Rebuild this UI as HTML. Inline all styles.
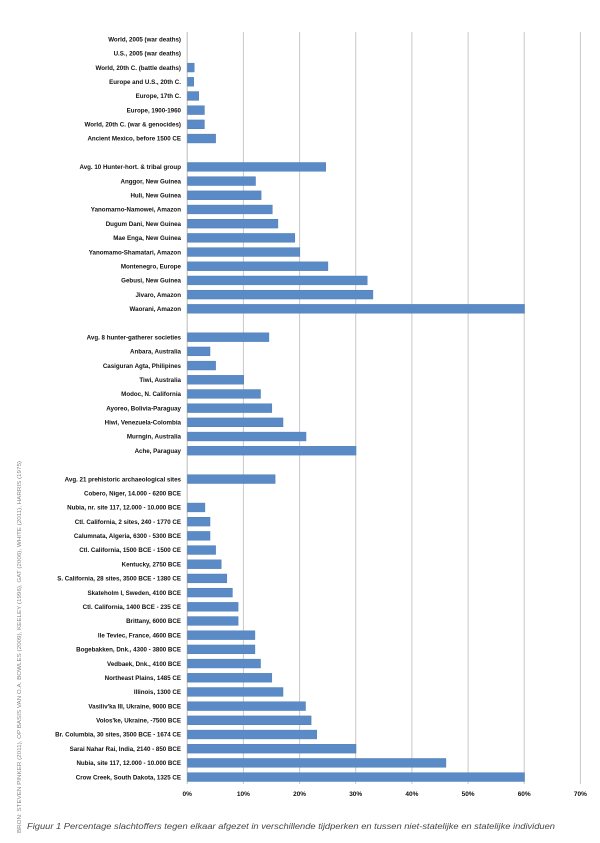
<!DOCTYPE html>
<html><head><meta charset="utf-8"><style>
html,body{margin:0;padding:0;background:#fff;}
svg{display:block;}
text{font-family:"Liberation Sans",sans-serif;}
.l{font-size:6.2px;font-weight:bold;fill:#111;text-anchor:end;}
.b{fill:#5a8bc6;stroke:#4f7db5;stroke-width:0.5;}
</style></head><body>
<svg width="600" height="843" xmlns="http://www.w3.org/2000/svg">
<g stroke="#c8c8c8" stroke-width="1">
<line x1="243.4" y1="32" x2="243.4" y2="784"/>
<line x1="299.6" y1="32" x2="299.6" y2="784"/>
<line x1="355.7" y1="32" x2="355.7" y2="784"/>
<line x1="411.9" y1="32" x2="411.9" y2="784"/>
<line x1="468.1" y1="32" x2="468.1" y2="784"/>
<line x1="524.2" y1="32" x2="524.2" y2="784"/>
<line x1="580.4" y1="32" x2="580.4" y2="784"/>
</g>
<line x1="187.2" y1="32" x2="187.2" y2="784" stroke="#bbb" stroke-width="1"/>

<g transform="translate(0,39.2)"><text class="l" x="181" y="2.2">World, 2005 (war deaths)</text></g>
<g transform="translate(0,53.39)"><text class="l" x="181" y="2.2">U.S., 2005 (war deaths)</text></g>
<g transform="translate(0,67.58)"><text class="l" x="181" y="2.2">World, 20th C. (battle deaths)</text><rect class="b" x="187.5" y="-4.4" width="6.7" height="8.8"/></g>
<g transform="translate(0,81.77)"><text class="l" x="181" y="2.2">Europe and U.S., 20th C.</text><rect class="b" x="187.5" y="-4.4" width="6.2" height="8.8"/></g>
<g transform="translate(0,95.96)"><text class="l" x="181" y="2.2">Europe, 17th C.</text><rect class="b" x="187.5" y="-4.4" width="11.2" height="8.8"/></g>
<g transform="translate(0,110.15)"><text class="l" x="181" y="2.2">Europe, 1900-1960</text><rect class="b" x="187.5" y="-4.4" width="16.9" height="8.8"/></g>
<g transform="translate(0,124.34)"><text class="l" x="181" y="2.2">World, 20th C. (war &amp; genocides)</text><rect class="b" x="187.5" y="-4.4" width="16.9" height="8.8"/></g>
<g transform="translate(0,138.53)"><text class="l" x="181" y="2.2">Ancient Mexico, before 1500 CE</text><rect class="b" x="187.5" y="-4.4" width="28.1" height="8.8"/></g>

<g transform="translate(0,166.91)"><text class="l" x="181" y="2.2">Avg. 10 Hunter-hort. &amp; tribal group</text><rect class="b" x="187.5" y="-4.4" width="138.2" height="8.8"/></g>
<g transform="translate(0,181.1)"><text class="l" x="181" y="2.2">Anggor, New Guinea</text><rect class="b" x="187.5" y="-4.4" width="68" height="8.8"/></g>
<g transform="translate(0,195.29)"><text class="l" x="181" y="2.2">Huli, New Guinea</text><rect class="b" x="187.5" y="-4.4" width="73.6" height="8.8"/></g>
<g transform="translate(0,209.48)"><text class="l" x="181" y="2.2">Yanomarno-Namowei, Amazon</text><rect class="b" x="187.5" y="-4.4" width="84.8" height="8.8"/></g>
<g transform="translate(0,223.67)"><text class="l" x="181" y="2.2">Dugum Dani, New Guinea</text><rect class="b" x="187.5" y="-4.4" width="90.4" height="8.8"/></g>
<g transform="translate(0,237.86)"><text class="l" x="181" y="2.2">Mae Enga, New Guinea</text><rect class="b" x="187.5" y="-4.4" width="107.3" height="8.8"/></g>
<g transform="translate(0,252.05)"><text class="l" x="181" y="2.2">Yanomamo-Shamatari, Amazon</text><rect class="b" x="187.5" y="-4.4" width="112.3" height="8.8"/></g>
<g transform="translate(0,266.24)"><text class="l" x="181" y="2.2">Montenegro, Europe</text><rect class="b" x="187.5" y="-4.4" width="140.4" height="8.8"/></g>
<g transform="translate(0,280.43)"><text class="l" x="181" y="2.2">Gebusi, New Guinea</text><rect class="b" x="187.5" y="-4.4" width="179.7" height="8.8"/></g>
<g transform="translate(0,294.62)"><text class="l" x="181" y="2.2">Jivaro, Amazon</text><rect class="b" x="187.5" y="-4.4" width="185.4" height="8.8"/></g>
<g transform="translate(0,308.81)"><text class="l" x="181" y="2.2">Waorani, Amazon</text><rect class="b" x="187.5" y="-4.4" width="337" height="8.8"/></g>

<g transform="translate(0,337.19)"><text class="l" x="181" y="2.2">Avg. 8 hunter-gatherer societies</text><rect class="b" x="187.5" y="-4.4" width="81.4" height="8.8"/></g>
<g transform="translate(0,351.38)"><text class="l" x="181" y="2.2">Anbara, Australia</text><rect class="b" x="187.5" y="-4.4" width="22.5" height="8.8"/></g>
<g transform="translate(0,365.57)"><text class="l" x="181" y="2.2">Casiguran Agta, Philipines</text><rect class="b" x="187.5" y="-4.4" width="28.1" height="8.8"/></g>
<g transform="translate(0,379.76)"><text class="l" x="181" y="2.2">Tiwi, Australia</text><rect class="b" x="187.5" y="-4.4" width="56.2" height="8.8"/></g>
<g transform="translate(0,393.95)"><text class="l" x="181" y="2.2">Modoc, N. California</text><rect class="b" x="187.5" y="-4.4" width="73" height="8.8"/></g>
<g transform="translate(0,408.14)"><text class="l" x="181" y="2.2">Ayoreo, Bolivia-Paraguay</text><rect class="b" x="187.5" y="-4.4" width="84.3" height="8.8"/></g>
<g transform="translate(0,422.33)"><text class="l" x="181" y="2.2">Hiwi, Venezuela-Colombia</text><rect class="b" x="187.5" y="-4.4" width="95.5" height="8.8"/></g>
<g transform="translate(0,436.52)"><text class="l" x="181" y="2.2">Murngin, Australia</text><rect class="b" x="187.5" y="-4.4" width="118.5" height="8.8"/></g>
<g transform="translate(0,450.71)"><text class="l" x="181" y="2.2">Ache, Paraguay</text><rect class="b" x="187.5" y="-4.4" width="168.5" height="8.8"/></g>

<g transform="translate(0,479.09)"><text class="l" x="181" y="2.2">Avg. 21 prehistoric archaeological sites</text><rect class="b" x="187.5" y="-4.4" width="87.6" height="8.8"/></g>
<g transform="translate(0,493.28)"><text class="l" x="181" y="2.2">Cobero, Niger, 14.000 - 6200 BCE</text></g>
<g transform="translate(0,507.47)"><text class="l" x="181" y="2.2">Nubia, nr. site 117, 12.000 - 10.000 BCE</text><rect class="b" x="187.5" y="-4.4" width="17.4" height="8.8"/></g>
<g transform="translate(0,521.66)"><text class="l" x="181" y="2.2">Ctl. California, 2 sites, 240 - 1770 CE</text><rect class="b" x="187.5" y="-4.4" width="22.5" height="8.8"/></g>
<g transform="translate(0,535.85)"><text class="l" x="181" y="2.2">Calumnata, Algeria, 6300 - 5300 BCE</text><rect class="b" x="187.5" y="-4.4" width="22.5" height="8.8"/></g>
<g transform="translate(0,550.04)"><text class="l" x="181" y="2.2">Ctl. California, 1500 BCE - 1500 CE</text><rect class="b" x="187.5" y="-4.4" width="28.1" height="8.8"/></g>
<g transform="translate(0,564.23)"><text class="l" x="181" y="2.2">Kentucky, 2750 BCE</text><rect class="b" x="187.5" y="-4.4" width="33.7" height="8.8"/></g>
<g transform="translate(0,578.42)"><text class="l" x="181" y="2.2">S. California, 28 sites, 3500 BCE - 1380 CE</text><rect class="b" x="187.5" y="-4.4" width="39.3" height="8.8"/></g>
<g transform="translate(0,592.61)"><text class="l" x="181" y="2.2">Skateholm I, Sweden, 4100 BCE</text><rect class="b" x="187.5" y="-4.4" width="44.9" height="8.8"/></g>
<g transform="translate(0,606.8)"><text class="l" x="181" y="2.2">Ctl. California, 1400 BCE - 235 CE</text><rect class="b" x="187.5" y="-4.4" width="50.6" height="8.8"/></g>
<g transform="translate(0,620.99)"><text class="l" x="181" y="2.2">Brittany, 6000 BCE</text><rect class="b" x="187.5" y="-4.4" width="50.6" height="8.8"/></g>
<g transform="translate(0,635.18)"><text class="l" x="181" y="2.2">Ile Teviec, France, 4600 BCE</text><rect class="b" x="187.5" y="-4.4" width="67.4" height="8.8"/></g>
<g transform="translate(0,649.37)"><text class="l" x="181" y="2.2">Bogebakken, Dnk., 4300 - 3800 BCE</text><rect class="b" x="187.5" y="-4.4" width="67.4" height="8.8"/></g>
<g transform="translate(0,663.56)"><text class="l" x="181" y="2.2">Vedbaek, Dnk., 4100 BCE</text><rect class="b" x="187.5" y="-4.4" width="73" height="8.8"/></g>
<g transform="translate(0,677.75)"><text class="l" x="181" y="2.2">Northeast Plains, 1485 CE</text><rect class="b" x="187.5" y="-4.4" width="84.3" height="8.8"/></g>
<g transform="translate(0,691.94)"><text class="l" x="181" y="2.2">Illinois, 1300 CE</text><rect class="b" x="187.5" y="-4.4" width="95.5" height="8.8"/></g>
<g transform="translate(0,706.13)"><text class="l" x="181" y="2.2">Vasiliv'ka III, Ukraine, 9000 BCE</text><rect class="b" x="187.5" y="-4.4" width="118" height="8.8"/></g>
<g transform="translate(0,720.32)"><text class="l" x="181" y="2.2">Volos'ke, Ukraine, -7500 BCE</text><rect class="b" x="187.5" y="-4.4" width="123.6" height="8.8"/></g>
<g transform="translate(0,734.51)"><text class="l" x="181" y="2.2">Br. Columbia, 30 sites, 3500 BCE - 1674 CE</text><rect class="b" x="187.5" y="-4.4" width="129.2" height="8.8"/></g>
<g transform="translate(0,748.7)"><text class="l" x="181" y="2.2">Sarai Nahar Rai, India, 2140 - 850 BCE</text><rect class="b" x="187.5" y="-4.4" width="168.5" height="8.8"/></g>
<g transform="translate(0,762.89)"><text class="l" x="181" y="2.2">Nubia, site 117, 12.000 - 10.000 BCE</text><rect class="b" x="187.5" y="-4.4" width="258.4" height="8.8"/></g>
<g transform="translate(0,777.08)"><text class="l" x="181" y="2.2">Crow Creek, South Dakota, 1325 CE</text><rect class="b" x="187.5" y="-4.4" width="337" height="8.8"/></g>

<g font-size="6.5" font-weight="bold" fill="#111" text-anchor="middle">
<text x="187.2" y="796">0%</text><text x="243.4" y="796">10%</text><text x="299.6" y="796">20%</text><text x="355.7" y="796">30%</text><text x="411.9" y="796">40%</text><text x="468.1" y="796">50%</text><text x="524.2" y="796">60%</text><text x="580.4" y="796">70%</text>
</g>
<text transform="translate(21,833) rotate(-90)" font-size="5.6" fill="#888" textLength="372" lengthAdjust="spacingAndGlyphs">BRON: STEVEN PINKER (2011), OP BASIS VAN O.A. BOWLES (2009), KEELEY (1996), GAT (2006), WHITE (2011), HARRIS (1975)</text>
<text x="27" y="829" font-size="8.5" font-style="italic" fill="#444" textLength="528" lengthAdjust="spacingAndGlyphs">Figuur 1 Percentage slachtoffers tegen elkaar afgezet in verschillende tijdperken en tussen niet-statelijke en statelijke individuen</text>
</svg>
</body></html>
